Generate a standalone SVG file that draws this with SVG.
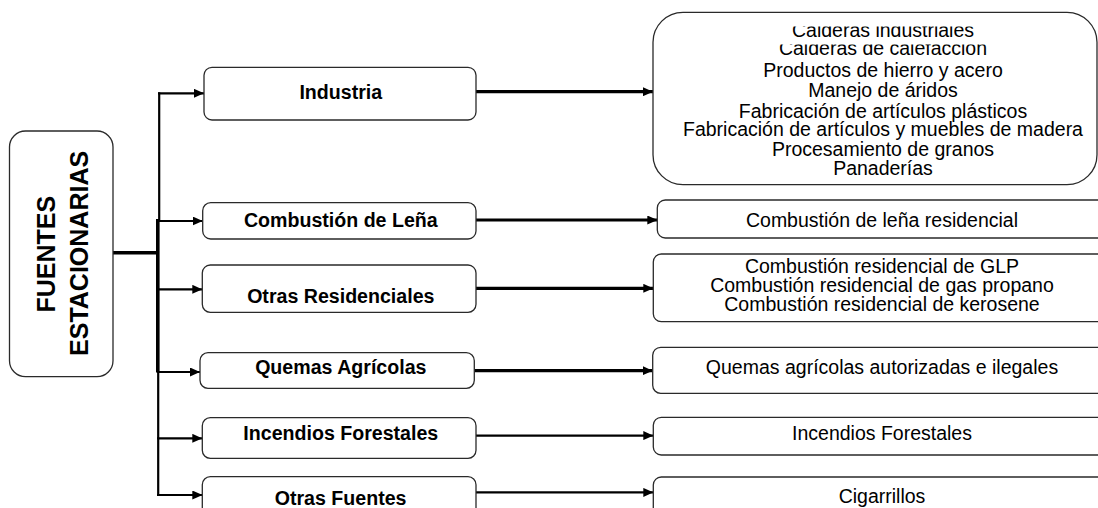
<svg xmlns="http://www.w3.org/2000/svg" width="1098" height="508" viewBox="0 0 1098 508">
  <style>
    .box { fill: #ffffff; stroke: #2a2a2a; stroke-width: 1.3; }
    .lbl { font-family: "Liberation Sans", Arial, sans-serif; font-size: 19.6px; font-weight: bold; fill: #000; text-anchor: middle; }
    .item { font-family: "Liberation Sans", Arial, sans-serif; font-size: 19.5px; fill: #000; text-anchor: middle; }
    .title { font-family: "Liberation Sans", Arial, sans-serif; font-size: 25px; font-weight: bold; fill: #000; text-anchor: middle; }
    .wire { fill: none; stroke: #000; stroke-linecap: butt; }
    .thick { stroke-width: 3.2; }
    .thin { stroke-width: 2.2; }
  </style>
  <defs>
    <marker id="head" markerUnits="userSpaceOnUse" markerWidth="10" markerHeight="9" refX="10" refY="4.5" orient="auto">
      <path d="M0,0 L10,4.5 L0,9 Z" fill="#000"/>
    </marker>
    <!-- the two top lines of the industry list are cut at their top edge -->
    <clipPath id="cutLine1"><rect x="650" y="26.5" width="448" height="20"/></clipPath>
    <clipPath id="cutLine2"><rect x="650" y="44.6" width="448" height="20"/></clipPath>
  </defs>

  <rect width="1098" height="508" fill="#ffffff"/>

  <!-- connectors -->
  <g id="connectors">
    <!-- root to trunk -->
    <path class="wire" d="M113,252.7 H159" stroke-width="3.6"/>
    <!-- trunk -->
    <path class="wire thin" d="M159.2,92.3 V221"/>
    <path class="wire" d="M157.8,219 V372.5" stroke-width="3.6"/>
    <path class="wire thin" d="M158.2,371 V496"/>
    <!-- trunk to categories -->
    <path class="wire thin" d="M158,93.3 H204" marker-end="url(#head)"/>
    <path class="wire thin" d="M158,221 H202.7" marker-end="url(#head)"/>
    <path class="wire thin" d="M157,289.3 H202.3" marker-end="url(#head)"/>
    <path class="wire thin" d="M157,372 H200" marker-end="url(#head)"/>
    <path class="wire thin" d="M157,438.3 H202.3" marker-end="url(#head)"/>
    <path class="wire thin" d="M157,495 H202.3" marker-end="url(#head)"/>
    <!-- categories to sources -->
    <path class="wire thick" d="M476,91.7 H653" marker-end="url(#head)"/>
    <path class="wire thick" d="M476,220 H657.3" marker-end="url(#head)"/>
    <path class="wire thick" d="M476,288.3 H653.3" marker-end="url(#head)"/>
    <path class="wire thick" d="M474.3,370.7 H652.7" marker-end="url(#head)"/>
    <path class="wire thin" d="M473,435.6 H653.3" marker-end="url(#head)"/>
    <path class="wire thin" d="M473,492.4 H653.3" marker-end="url(#head)"/>
  </g>

  <!-- root -->
  <g id="fuentes-estacionarias">
    <rect class="box" x="9.5" y="131" width="103.5" height="245.7" rx="16"/>
    <text class="title" transform="translate(55,254.2) rotate(-90)">FUENTES</text>
    <text class="title" transform="translate(88.3,253.4) rotate(-90)">ESTACIONARIAS</text>
  </g>

  <!-- categories -->
  <g id="industria">
    <rect class="box" x="204" y="67.3" width="272" height="52.7" rx="8"/>
    <text class="lbl" x="340.8" y="99.3">Industria</text>
  </g>
  <g id="combustion-lena">
    <rect class="box" x="202.7" y="202.7" width="273.3" height="36.3" rx="8"/>
    <text class="lbl" x="340.8" y="226.7">Combustión de Leña</text>
  </g>
  <g id="otras-residenciales">
    <rect class="box" x="202.3" y="265" width="273.7" height="47.3" rx="8"/>
    <text class="lbl" x="340.8" y="302.7">Otras Residenciales</text>
  </g>
  <g id="quemas-agricolas">
    <rect class="box" x="200" y="352.7" width="274.3" height="35.6" rx="8"/>
    <text class="lbl" x="340.8" y="374">Quemas Agrícolas</text>
  </g>
  <g id="incendios-forestales">
    <rect class="box" x="202.3" y="417.7" width="273.7" height="40.6" rx="8"/>
    <text class="lbl" x="340.8" y="440">Incendios Forestales</text>
  </g>
  <g id="otras-fuentes">
    <rect class="box" x="202.3" y="476.7" width="273.7" height="40" rx="8"/>
    <text class="lbl" x="340.6" y="505">Otras Fuentes</text>
  </g>

  <!-- sources -->
  <g id="fuentes-industria">
    <rect class="box" x="653" y="12.3" width="444" height="172.4" rx="30"/>
    <text class="item" x="883" y="36.7" clip-path="url(#cutLine1)">Calderas industriales</text>
    <text class="item" x="883" y="55.3" clip-path="url(#cutLine2)">Calderas de calefacción</text>
    <text class="item" x="883" y="77.3">Productos de hierro y acero</text>
    <text class="item" x="883" y="97.3">Manejo de áridos</text>
    <text class="item" x="883" y="118.3">Fabricación de artículos plásticos</text>
    <text class="item" x="883" y="136.3">Fabricación de artículos y muebles de madera</text>
    <text class="item" x="883" y="155.7">Procesamiento de granos</text>
    <text class="item" x="883" y="175">Panaderías</text>
  </g>
  <g id="fuentes-lena">
    <rect class="box" x="657.3" y="200" width="460" height="38" rx="8"/>
    <text class="item" x="882" y="227.3">Combustión de leña residencial</text>
  </g>
  <g id="fuentes-residenciales">
    <rect class="box" x="653.3" y="254" width="460" height="67.7" rx="8"/>
    <text class="item" x="882" y="273.3">Combustión residencial de GLP</text>
    <text class="item" x="882" y="291.8">Combustión residencial de gas propano</text>
    <text class="item" x="882" y="310.7">Combustión residencial de kerosene</text>
  </g>
  <g id="fuentes-quemas">
    <rect class="box" x="652.7" y="347.3" width="460" height="46" rx="8"/>
    <text class="item" x="882" y="374.3">Quemas agrícolas autorizadas e ilegales</text>
  </g>
  <g id="fuentes-incendios">
    <rect class="box" x="653.3" y="417.3" width="460" height="37.7" rx="8"/>
    <text class="item" x="882" y="440">Incendios Forestales</text>
  </g>
  <g id="fuentes-otras">
    <rect class="box" x="653.3" y="477" width="460" height="40" rx="8"/>
    <text class="item" x="882" y="503.3">Cigarrillos</text>
  </g>
</svg>
